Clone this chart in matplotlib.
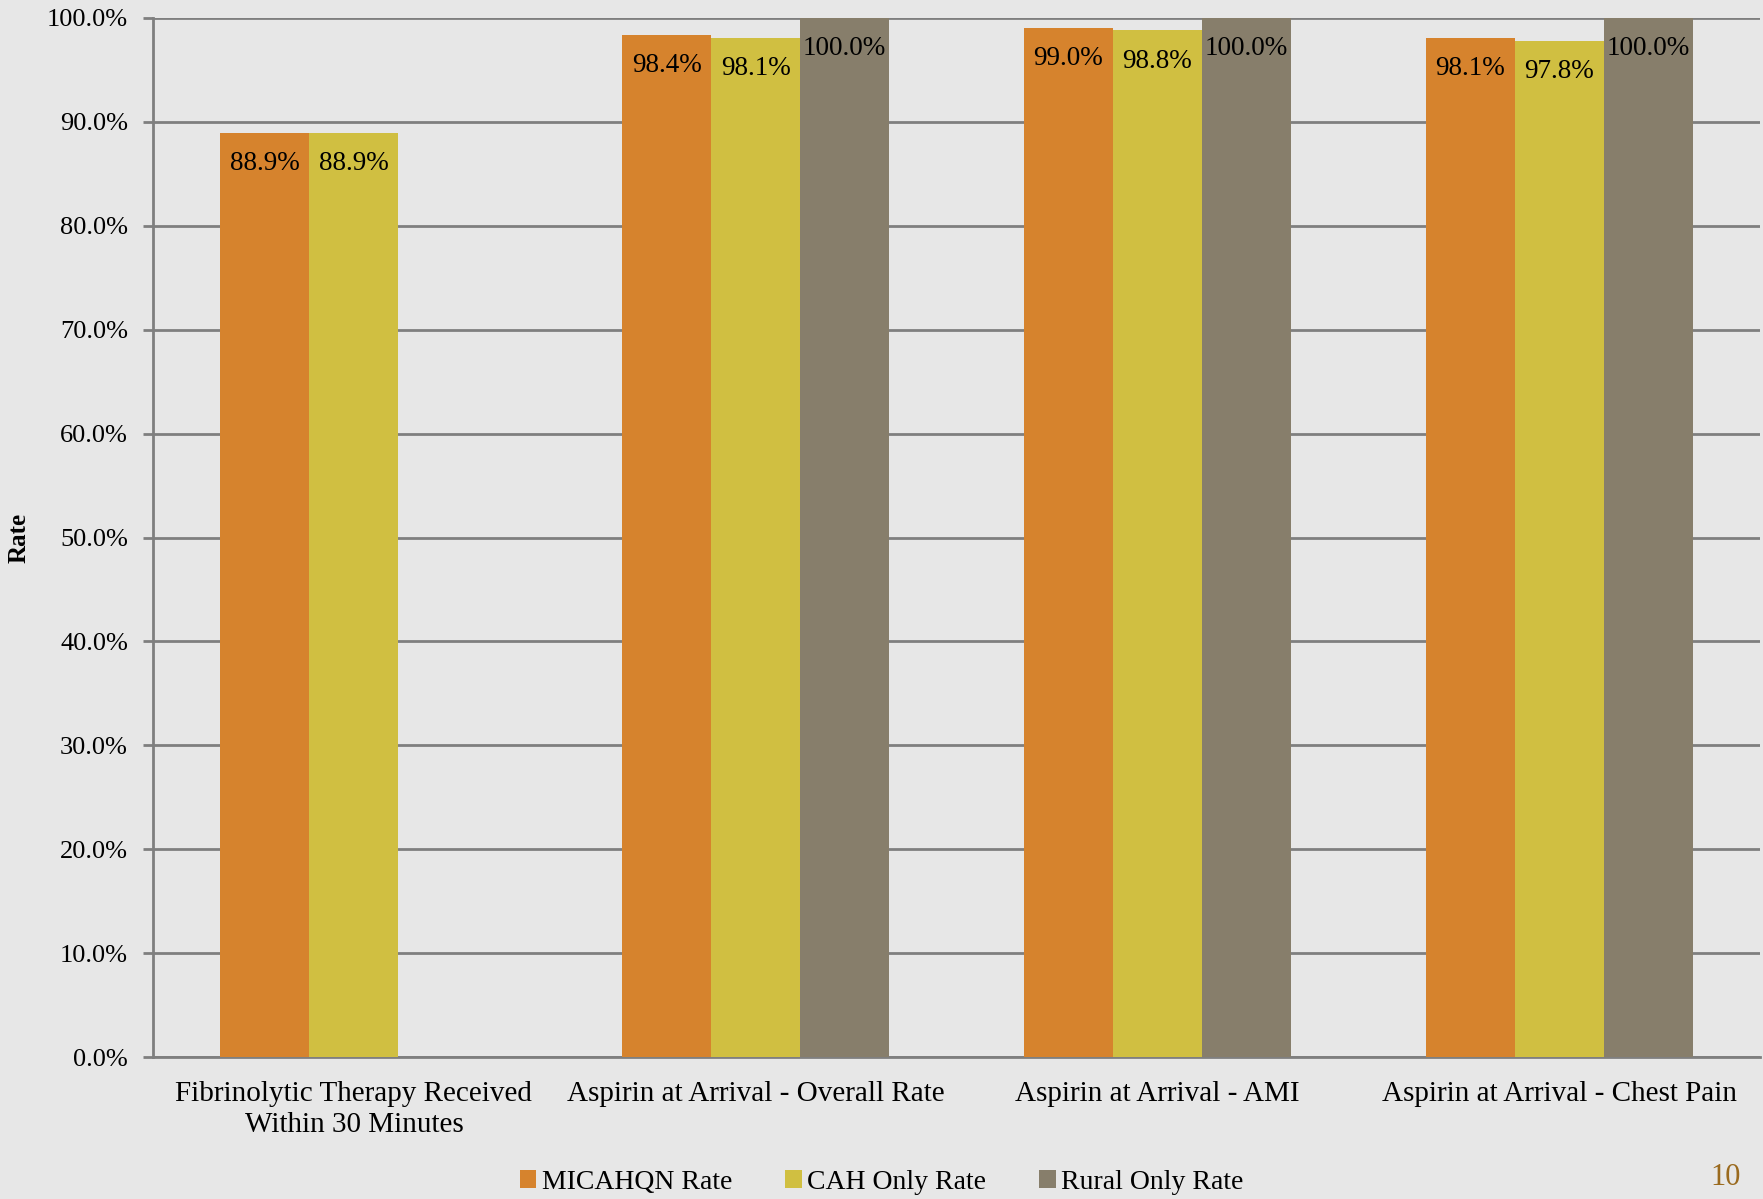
import numpy as np
import matplotlib
matplotlib.use("Agg")
import matplotlib.pyplot as plt
from matplotlib.ticker import MultipleLocator, FuncFormatter

plt.rcParams['font.family'] = ['Liberation Serif', 'DejaVu Serif']

# Data
categories = ["Fibrinolytic Therapy Received\nWithin 30 Minutes",
              "Aspirin at Arrival - Overall Rate",
              "Aspirin at Arrival - AMI",
              "Aspirin at Arrival - Chest Pain"]
micahqn_rate = [88.9, 98.4, 99.0, 98.1]
cah_rate = [88.9, 98.1, 98.8, 97.8]
rural_rate = [np.nan, 100.0, 100.0, 100.0]

series_names = ["MICAHQN Rate", "CAH Only Rate", "Rural Only Rate"]
colors = ["#D6832D", "#D0BF41", "#877E6B"]
bg = "#E7E7E7"
grid_col = "#7F7F7F"

fig = plt.figure(figsize=(17.63, 11.99), dpi=100, facecolor=bg)
ax = fig.add_axes([0.0868, 0.1183, 0.9115, 0.8667])
ax.set_facecolor(bg)

x = np.arange(len(categories))
w = 0.2215
all_series = [micahqn_rate, cah_rate, rural_rate]
for i, (vals, name, c) in enumerate(zip(all_series, series_names, colors)):
    pos = x + (i - 1) * w
    ax.bar(pos, vals, width=w, color=c, label=name, zorder=3)
    for p, v in zip(pos, vals):
        if np.isnan(v):
            continue
        ax.annotate(f"{v:.1f}%", (p, v), xytext=(0, -22), textcoords="offset points",
                    ha="center", va="center", fontsize=19.5, color="black", zorder=4)

ax.set_xlim(-0.5, len(categories) - 0.5)
ax.set_ylim(0, 100)
ax.yaxis.set_major_locator(MultipleLocator(10))
ax.yaxis.set_major_formatter(FuncFormatter(lambda v, p: f"{v:.1f}%"))
ax.grid(axis="y", color=grid_col, linewidth=2, zorder=1)
ax.set_axisbelow(True)
for s in ["top", "right"]:
    ax.spines[s].set_visible(False)
for s in ["left", "bottom"]:
    ax.spines[s].set_color(grid_col)
    ax.spines[s].set_linewidth(2)
ax.tick_params(axis="y", length=7, width=2, color=grid_col, labelsize=19, pad=11)
ax.tick_params(axis="x", length=0, labelsize=21, pad=17)
ax.set_xticks(x)
ax.set_xticklabels(categories, linespacing=1.25)
ax.set_ylabel("Rate", fontsize=18, fontweight="bold", labelpad=12)

fig.legend(loc="center", bbox_to_anchor=(0.5, 0.014), ncol=3, frameon=False,
           fontsize=20, handlelength=0.6, handleheight=0.6, handletextpad=0.2,
           columnspacing=1.9)

fig.text(0.979, 0.018, "10", fontsize=22, color="#9A6A1E", ha="center", va="center")

fig.savefig("out.png", dpi=100, facecolor=bg)
